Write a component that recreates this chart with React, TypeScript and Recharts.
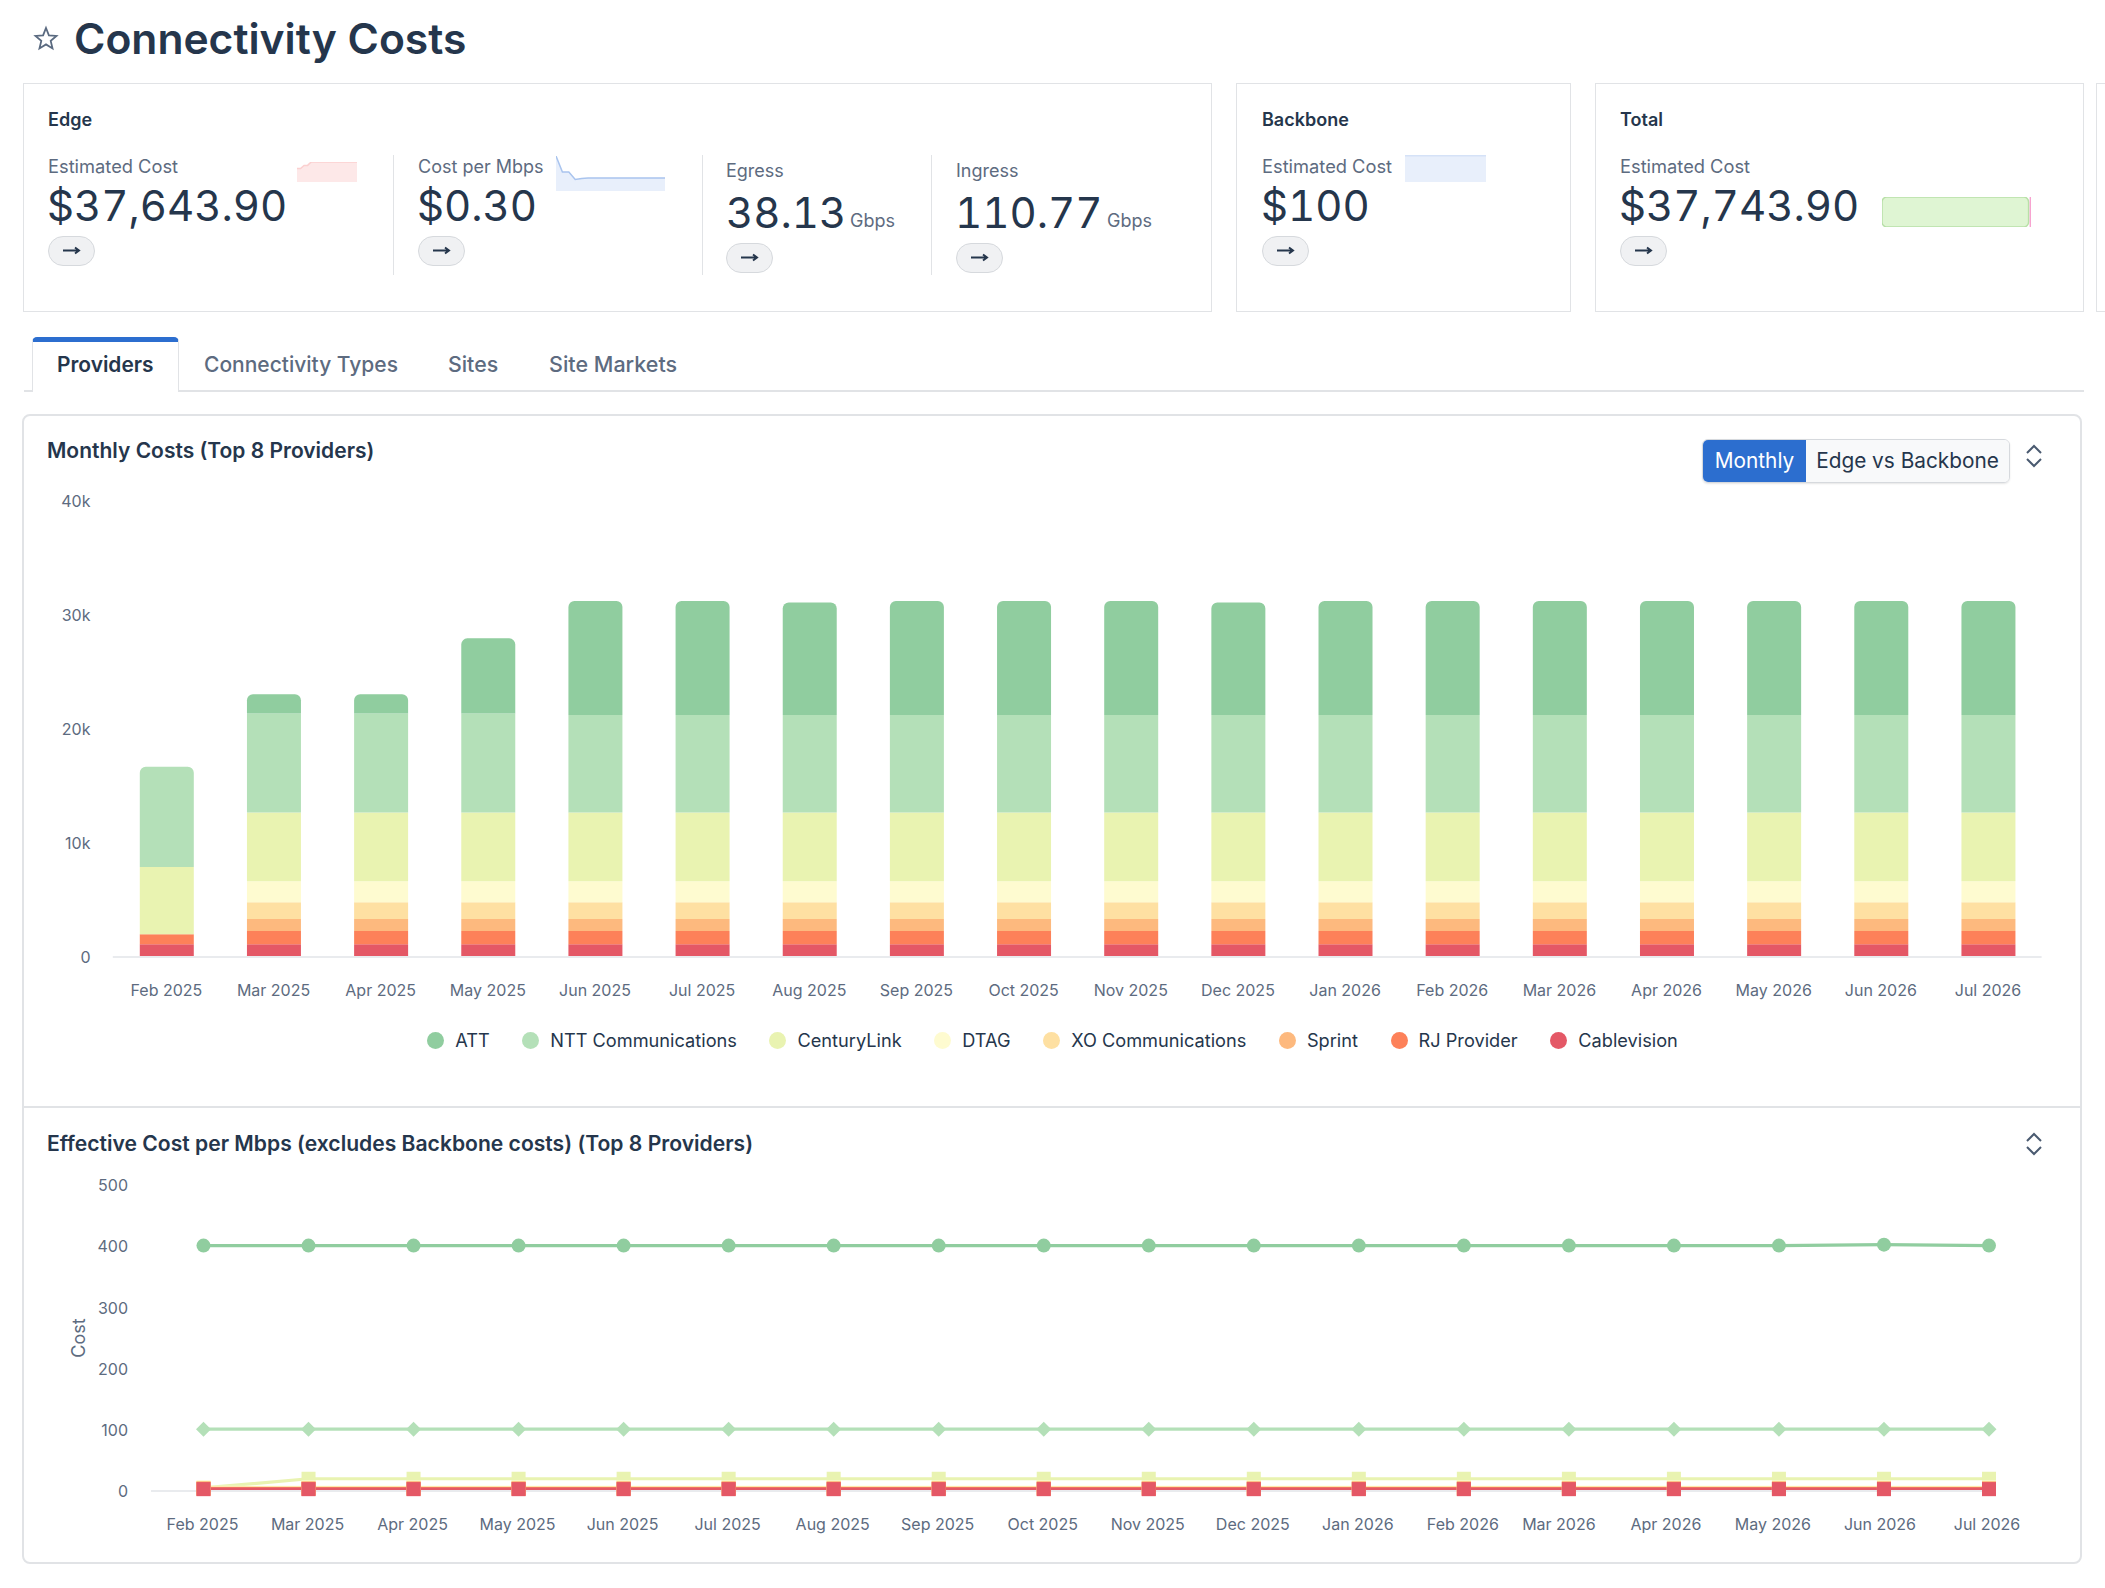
import React from "react";
import {
  Area,
  AreaChart,
  Bar,
  BarChart,
  Legend,
  Line,
  LineChart,
  Rectangle,
  XAxis,
  YAxis,
} from "recharts";

const months = [
  "Feb 2025", "Mar 2025", "Apr 2025", "May 2025", "Jun 2025", "Jul 2025",
  "Aug 2025", "Sep 2025", "Oct 2025", "Nov 2025", "Dec 2025", "Jan 2026",
  "Feb 2026", "Mar 2026", "Apr 2026", "May 2026", "Jun 2026", "Jul 2026",
];

// legend order, the stack is drawn the other way round
const providers = [
  "ATT", "NTT Communications", "CenturyLink", "DTAG",
  "XO Communications", "Sprint", "RJ Provider", "Cablevision",
];
const providerColors = [
  "#90cd9f", "#b4e0b8", "#e9f3b1", "#fefbd0",
  "#fee0a2", "#fdb97e", "#fd8159", "#e45866",
];

// monthly costs
const attCost = [0, 1670, 1670, 6580, 10000, 10000, 9885, 10000, 10000, 10000, 9885, 10000, 10000, 10000, 10000, 10000, 10000, 10000];
const nttCost = [8800, 8685, 8685, 8685, 8535, 8535, 8535, 8535, 8535, 8535, 8535, 8535, 8535, 8535, 8535, 8535, 8535, 8535];
const centuryCost = [5900, 6050, 6050, 6050, 6050, 6050, 6050, 6050, 6050, 6050, 6050, 6050, 6050, 6050, 6050, 6050, 6050, 6050];
const dtagCost = [0, 1840, 1840, 1840, 1840, 1840, 1840, 1840, 1840, 1840, 1840, 1840, 1840, 1840, 1840, 1840, 1840, 1840];
const xoCost = [0, 1465, 1465, 1465, 1465, 1465, 1465, 1465, 1465, 1465, 1465, 1465, 1465, 1465, 1465, 1465, 1465, 1465];
const sprintCost = [0, 1050, 1050, 1050, 1050, 1050, 1050, 1050, 1050, 1050, 1050, 1050, 1050, 1050, 1050, 1050, 1050, 1050];
const rjCost = [880, 1170, 1170, 1170, 1170, 1170, 1170, 1170, 1170, 1170, 1170, 1170, 1170, 1170, 1170, 1170, 1170, 1170];
const cableCost = [1110, 1110, 1110, 1110, 1110, 1110, 1110, 1110, 1110, 1110, 1110, 1110, 1110, 1110, 1110, 1110, 1110, 1110];
const costSeries = [attCost, nttCost, centuryCost, dtagCost, xoCost, sprintCost, rjCost, cableCost];

// effective cost per Mbps
const attRate = [401, 401, 401, 401, 401, 401, 401, 401, 401, 401, 401, 401, 401, 401, 401, 401, 402.5, 401];
const nttRate = [101, 101, 101, 101, 101, 101, 101, 101, 101, 101, 101, 101, 101, 101, 101, 101, 101, 101];
const centuryRate = [5, 20, 20, 20, 20, 20, 20, 20, 20, 20, 20, 20, 20, 20, 20, 20, 20, 20];
const dtagRate = [6, 6, 6, 6, 6, 6, 6, 6, 6, 6, 6, 6, 6, 6, 6, 6, 6, 6];
const xoRate = [5, 5, 5, 5, 5, 5, 5, 5, 5, 5, 5, 5, 5, 5, 5, 5, 5, 5];
const sprintRate = [4, 4, 4, 4, 4, 4, 4, 4, 4, 4, 4, 4, 4, 4, 4, 4, 4, 4];
const rjRate = [3.5, 3.5, 3.5, 3.5, 3.5, 3.5, 3.5, 3.5, 3.5, 3.5, 3.5, 3.5, 3.5, 3.5, 3.5, 3.5, 3.5, 3.5];
const cableRate = [3, 3, 3, 3, 3, 3, 3, 3, 3, 3, 3, 3, 3, 3, 3, 3, 3, 3];
const rateSeries = [attRate, nttRate, centuryRate, dtagRate, xoRate, sprintRate, rjRate, cableRate];
const rateShapes = ["circle", "diamond", "square", "square", "square", "square", "square", "square"];

const costTicks = [0, 10000, 20000, 30000, 40000];
const rateTicks = [0, 100, 200, 300, 400, 500];

// sparklines, percent of their own height
const edgeSpark = [67, 67, 83, 83, 100, 100, 100, 100, 100, 100, 100, 100, 100, 100, 100, 100, 100, 100];
const mbpsSpark = [100, 54, 54, 33, 36, 37, 37, 37, 37, 37, 37, 37, 37, 37, 37, 37, 37, 37];
const backboneSpark = [97, 97, 97, 97, 97, 97, 97, 97, 97, 97, 97, 97, 97, 97, 97, 97, 97, 97];
const totalParts = [{ name: "Total", edge: 37643.9, backbone: 100 }];

// last x labels drift left of their points in the original
const rateLabelShift = [-1, -1, -1, -1, -1, -1, -1, -1, -1, -1, -1, -1, -1, -10, -8, -6, -4, -2];

const costData = months.map((month, i) => {
  const row: Record<string, string | number> = { month };
  providers.forEach((name, s) => (row[name] = costSeries[s][i]));
  return row;
});
const rateData = months.map((month, i) => {
  const row: Record<string, string | number> = { month };
  providers.forEach((name, s) => (row[name] = rateSeries[s][i]));
  return row;
});

const dark = "#25364c";
const muted = "#5d6b80";
const line = "#e1e3e6";
const font = "Inter, sans-serif";

function Txt({ x, y, size, weight = 400, color = dark, tabular = false, children }: any) {
  return (
    <div
      style={{
        position: "absolute",
        left: x,
        top: y,
        transform: "translateY(-50%)",
        fontSize: size,
        fontWeight: weight,
        color,
        whiteSpace: "nowrap",
        lineHeight: 1.2,
        fontVariantNumeric: tabular ? "tabular-nums" : "normal",
      }}
    >
      {children}
    </div>
  );
}

function Big({ x, y, children }: any) {
  return (
    <Txt x={x} y={y} size={42} tabular>
      {children}
    </Txt>
  );
}

function Box({ x, y, w, h, style }: any) {
  return (
    <div
      style={{
        position: "absolute",
        left: x,
        top: y,
        width: w,
        height: h,
        boxSizing: "border-box",
        ...style,
      }}
    />
  );
}

function ArrowButton({ x, y }: { x: number; y: number }) {
  return (
    <div
      style={{
        position: "absolute",
        left: x,
        top: y,
        width: 47,
        height: 30,
        boxSizing: "border-box",
        borderRadius: 15,
        background: "#f0f1f3",
        border: "1.5px solid #d6d9dd",
      }}
    >
      <svg width={44} height={27} style={{ display: "block" }}>
        <path d="M14 13.5H30M26 10.5L30 13.5L26 16.5" fill="none" stroke={dark} strokeWidth={2} />
      </svg>
    </div>
  );
}

function Chevrons({ x, y }: { x: number; y: number }) {
  return (
    <svg width={18} height={24} style={{ position: "absolute", left: x, top: y }}>
      <path d="M2 9L9 2L16 9M2 15L9 22L16 15" fill="none" stroke="#4a5a70" strokeWidth={2} />
    </svg>
  );
}

function Spark({ x, y, w, h, data, fill, stroke }: any) {
  const rows = data.map((v: number, i: number) => ({ i, v }));
  return (
    <div style={{ position: "absolute", left: x, top: y }}>
      <AreaChart width={w} height={h} data={rows} margin={{ top: 0, right: 0, bottom: 0, left: 0 }}>
        <XAxis dataKey="i" hide />
        <YAxis hide domain={[0, 100]} />
        <Area
          type="linear"
          dataKey="v"
          stroke={stroke}
          strokeWidth={1.5}
          fill={fill}
          fillOpacity={1}
          dot={false}
          isAnimationActive={false}
        />
      </AreaChart>
    </div>
  );
}

function RateDot({ cx, cy, shape, color }: any) {
  if (shape === "circle") return <circle cx={cx} cy={cy} r={7} fill={color} />;
  if (shape === "diamond")
    return <path d={`M${cx} ${cy - 7.5}L${cx + 7.5} ${cy}L${cx} ${cy + 7.5}L${cx - 7.5} ${cy}Z`} fill={color} />;
  return <rect x={cx - 7} y={cy - 7} width={14} height={14} fill={color} />;
}

function RateTick({ x, y, payload, index }: any) {
  return (
    <text x={x + rateLabelShift[index]} y={y} dy={13} textAnchor="middle" fontSize={16} fill={muted} fontFamily={font}>
      {payload.value}
    </text>
  );
}

function CostLegend() {
  return (
    <div
      style={{
        height: 86,
        display: "flex",
        justifyContent: "center",
        alignItems: "center",
        gap: 32.6,
        fontSize: 18.2,
        color: dark,
        fontFamily: font,
      }}
    >
      {providers.map((name, i) => (
        <div key={name} style={{ display: "flex", alignItems: "center", gap: 11 }}>
          <span style={{ width: 17, height: 17, borderRadius: "50%", background: providerColors[i] }} />
          {name}
        </div>
      ))}
    </div>
  );
}

function CostChart() {
  // bottom of the stack first
  const order = providers.map((_, i) => i).reverse();
  return (
    <BarChart
      width={2105}
      height={603}
      data={costData}
      margin={{ top: 21, right: 63.4, bottom: 0, left: 0 }}
    >
      <XAxis
        dataKey="month"
        interval={0}
        height={40}
        tickLine={false}
        tickSize={0}
        tickMargin={27.5}
        axisLine={{ stroke: "#e9ebee", strokeWidth: 2 }}
        tick={{ fontSize: 16, fill: muted, fontFamily: font }}
      />
      <YAxis
        width={112.8}
        domain={[0, 40000]}
        ticks={costTicks}
        axisLine={false}
        tickLine={false}
        tickSize={0}
        tickMargin={22.3}
        tickFormatter={(v: number) => (v === 0 ? "0" : `${v / 1000}k`)}
        tick={{ fontSize: 16, fill: muted, fontFamily: font }}
      />
      <Legend
        verticalAlign="bottom"
        height={86}
        wrapperStyle={{ left: 0, width: 2105 }}
        content={() => <CostLegend />}
      />
      {order.map((s) => (
        <Bar
          key={providers[s]}
          dataKey={providers[s]}
          stackId="cost"
          barSize={54}
          fill={providerColors[s]}
          isAnimationActive={false}
          shape={(props: any) => {
            const top = s === 0 || (s === 1 && props.payload.ATT === 0);
            return <Rectangle {...props} radius={top ? [6, 6, 0, 0] : 0} />;
          }}
        />
      ))}
    </BarChart>
  );
}

function RateChart() {
  const order = [0, 1, 2, 3, 4, 5, 6, 7];
  return (
    <LineChart
      width={2105}
      height={380}
      data={rateData}
      margin={{ top: 20, right: 116, bottom: 0, left: 0 }}
    >
      <XAxis
        dataKey="month"
        interval={0}
        height={54}
        tickLine={false}
        tickSize={0}
        tickMargin={26}
        padding={{ left: 52.5, right: 0 }}
        axisLine={{ stroke: "#e9ebee", strokeWidth: 2 }}
        tick={<RateTick />}
      />
      <YAxis
        width={151}
        domain={[0, 500]}
        ticks={rateTicks}
        axisLine={false}
        tickLine={false}
        tickSize={0}
        tickMargin={23}
        tick={{ fontSize: 16, fill: muted, fontFamily: font, dy: 0.5 }}
        label={{
          value: "Cost",
          angle: -90,
          position: "insideLeft",
          offset: 78.5,
          style: { fontSize: 18, fill: muted, fontFamily: font, textAnchor: "middle" },
        }}
      />
      {order.map((s) => (
        <Line
          key={providers[s]}
          type="linear"
          dataKey={providers[s]}
          stroke={providerColors[s]}
          strokeWidth={3.2}
          isAnimationActive={false}
          dot={(props: any) => (
            <RateDot key={props.index} cx={props.cx} cy={props.cy} shape={rateShapes[s]} color={providerColors[s]} />
          )}
        />
      ))}
    </LineChart>
  );
}

export default function App() {
  const card = { border: `1.5px solid ${line}`, background: "#fff" };
  return (
    <div
      style={{
        position: "absolute",
        left: 0,
        top: 0,
        width: 2105,
        height: 1588,
        overflow: "hidden",
        background: "#fff",
        fontFamily: font,
      }}
    >
      {/* header */}
      <svg width={26} height={26} style={{ position: "absolute", left: 33, top: 25 }}>
        <path
          d="M13 3L15.9 10.3L23.5 10.9L17.7 15.9L19.5 23.4L13 19.4L6.5 23.4L8.3 15.9L2.5 10.9L10.1 10.3Z"
          fill="none"
          stroke="#5a6a80"
          strokeWidth={1.8}
        />
      </svg>
      <Txt x={74} y={39} size={42.6} weight={600}>Connectivity Costs</Txt>

      {/* edge card */}
      <Box x={23} y={83} w={1189} h={229} style={card} />
      <Txt x={48} y={120} size={18} weight={600}>Edge</Txt>
      <Txt x={48} y={167} size={18.3} color={muted}>Estimated Cost</Txt>
      <Spark x={297} y={162} w={60} h={20} data={edgeSpark} fill="#fde8e8" stroke="#fbd0d0" />
      <Big x={47} y={206}>$37,643.90</Big>
      <ArrowButton x={48} y={236} />
      <Box x={393} y={155} w={1} h={120} style={{ background: line }} />
      <Txt x={418} y={167} size={18} color={muted}>Cost per Mbps</Txt>
      <Spark x={556} y={156} w={109} h={35} data={mbpsSpark} fill="#e8effb" stroke="#a9c4ee" />
      <Big x={417} y={206}>$0.30</Big>
      <ArrowButton x={418} y={236} />
      <Box x={702} y={155} w={1} h={120} style={{ background: line }} />
      <Txt x={726} y={171} size={18} color={muted}>Egress</Txt>
      <Big x={726} y={213}>38.13</Big>
      <Txt x={850} y={221} size={18} color={muted}>Gbps</Txt>
      <ArrowButton x={726} y={243} />
      <Box x={931} y={155} w={1} h={120} style={{ background: line }} />
      <Txt x={956} y={171} size={18} color={muted}>Ingress</Txt>
      <Big x={955} y={213}>110.77</Big>
      <Txt x={1107} y={221} size={18} color={muted}>Gbps</Txt>
      <ArrowButton x={956} y={243} />

      {/* backbone card */}
      <Box x={1236} y={83} w={335} h={229} style={card} />
      <Txt x={1262} y={120} size={18} weight={600}>Backbone</Txt>
      <Txt x={1262} y={167} size={18.3} color={muted}>Estimated Cost</Txt>
      <Spark x={1405} y={155} w={81} h={27} data={backboneSpark} fill="#e8effb" stroke="#d5e2f7" />
      <Big x={1261} y={206}>$100</Big>
      <ArrowButton x={1262} y={236} />

      {/* total card */}
      <Box x={1595} y={83} w={489} h={229} style={card} />
      <Txt x={1620} y={120} size={18} weight={600}>Total</Txt>
      <Txt x={1620} y={167} size={18.3} color={muted}>Estimated Cost</Txt>
      <Big x={1619} y={206}>$37,743.90</Big>
      <div style={{ position: "absolute", left: 1882, top: 197 }}>
        <BarChart
          layout="vertical"
          width={149}
          height={30}
          data={totalParts}
          barCategoryGap={0}
          margin={{ top: 0, right: 0, bottom: 0, left: 0 }}
        >
          <XAxis type="number" hide domain={[0, 37743.9]} />
          <YAxis type="category" dataKey="name" hide />
          <Bar
            dataKey="edge"
            stackId="t"
            fill="#dff5d3"
            stroke="#b8e0a8"
            strokeWidth={1.5}
            isAnimationActive={false}
            shape={(props: any) => <Rectangle {...props} radius={5} width={props.width - 2} />}
          />
          <Bar dataKey="backbone" stackId="t" fill="#f7a3d0" stroke="#f7a3d0" strokeWidth={2} isAnimationActive={false} />
        </BarChart>
      </div>
      <ArrowButton x={1620} y={236} />

      {/* next card peeking in */}
      <Box x={2096} y={83} w={20} h={229} style={card} />

      {/* tabs */}
      <Box x={24} y={390} w={2060} h={1.5} style={{ background: line }} />
      <Box
        x={32}
        y={337}
        w={147}
        h={55}
        style={{
          background: "#fff",
          borderTop: "5px solid #2c6ecf",
          borderLeft: `1.5px solid ${line}`,
          borderRight: `1.5px solid ${line}`,
          borderRadius: "5px 5px 0 0",
        }}
      />
      <Txt x={57} y={365} size={20.9} weight={600}>Providers</Txt>
      <Txt x={204} y={365} size={21} weight={500} color={muted}>Connectivity Types</Txt>
      <Txt x={448} y={365} size={21.3} weight={500} color={muted}>Sites</Txt>
      <Txt x={549} y={365} size={21.5} weight={500} color={muted}>Site Markets</Txt>

      {/* chart panel */}
      <Box x={22} y={414} w={2060} h={1150} style={{ border: `2px solid ${line}`, borderRadius: 8 }} />
      <Box x={22} y={1106} w={2060} h={2} style={{ background: line }} />

      <Txt x={47} y={451} size={21} weight={600}>Monthly Costs (Top 8 Providers)</Txt>
      <div
        style={{
          position: "absolute",
          left: 1702,
          top: 439,
          width: 308,
          height: 44,
          display: "flex",
          boxSizing: "border-box",
          borderRadius: 6,
          border: "1.5px solid #d6d9dd",
          overflow: "hidden",
          fontSize: 20.8,
          boxShadow: "0 1px 2px rgba(0,0,0,0.1)",
        }}
      >
        <div style={{ width: 103, background: "#2c6ecf", color: "#fff", lineHeight: "41px", textAlign: "center" }}>Monthly</div>
        <div style={{ flex: 1, background: "#f8f9fa", color: dark, lineHeight: "41px", textAlign: "center" }}>Edge vs Backbone</div>
      </div>
      <Chevrons x={2025} y={444} />

      <div style={{ position: "absolute", left: 0, top: 480 }}>
        <CostChart />
      </div>

      <Txt x={47} y={1144} size={21.1} weight={600}>Effective Cost per Mbps (excludes Backbone costs) (Top 8 Providers)</Txt>
      <Chevrons x={2025} y={1132} />

      <div style={{ position: "absolute", left: 0, top: 1165 }}>
        <RateChart />
      </div>
    </div>
  );
}
